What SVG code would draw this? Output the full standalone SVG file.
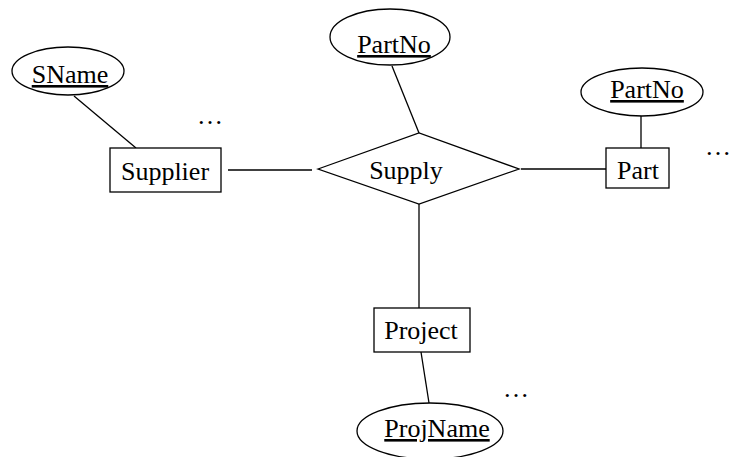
<svg xmlns="http://www.w3.org/2000/svg" width="733" height="457" viewBox="0 0 733 457">
  <style>
    .shape { fill: #fff; stroke: #000; stroke-width: 1.3; }
    .link { stroke: #000; stroke-width: 1.3; fill: none; }
    .label { font-family: "Liberation Serif", "Times New Roman", serif; font-size: 26px; fill: #000; text-anchor: middle; }
    .key { text-decoration: underline; }
  </style>
  <rect width="733" height="457" fill="#fff"/>

  <!-- relationships and attribute links -->
  <g id="connectors">
    <line class="link" x1="74" y1="96" x2="136" y2="148"/>
    <line class="link" x1="228" y1="170" x2="312" y2="170"/>
    <line class="link" x1="392" y1="66" x2="419" y2="133"/>
    <line class="link" x1="521" y1="169" x2="607" y2="169"/>
    <line class="link" x1="641" y1="116" x2="641" y2="148"/>
    <line class="link" x1="419" y1="204" x2="419" y2="308"/>
    <line class="link" x1="421" y1="352" x2="429" y2="403"/>
  </g>

  <g id="sname">
    <ellipse class="shape" cx="68" cy="71" rx="56" ry="24"/>
    <text class="label key" x="70" y="83">SName</text>
  </g>

  <g id="supplier">
    <rect class="shape" x="110" y="148" width="111" height="44"/>
    <text class="label" x="165" y="180">Supplier</text>
  </g>

  <g id="supply">
    <polygon class="shape" points="318,169 419,133 519,169 419,204"/>
    <text class="label" x="406" y="179">Supply</text>
  </g>

  <g id="partno-supply">
    <ellipse class="shape" cx="390" cy="37" rx="60" ry="28"/>
    <text class="label key" x="394" y="53">PartNo</text>
  </g>

  <g id="part">
    <rect class="shape" x="606" y="148" width="63" height="40"/>
    <text class="label" x="638" y="179">Part</text>
  </g>

  <g id="partno-part">
    <ellipse class="shape" cx="642" cy="92" rx="61" ry="24"/>
    <text class="label key" x="647" y="98">PartNo</text>
  </g>

  <g id="project">
    <rect class="shape" x="374" y="308" width="96" height="44"/>
    <text class="label" x="421" y="339">Project</text>
  </g>

  <g id="projname">
    <ellipse class="shape" cx="430" cy="431" rx="73" ry="28"/>
    <text class="label key" x="437" y="437">ProjName</text>
  </g>

  <g id="ellipses">
    <text class="label" x="210" y="124">…</text>
    <text class="label" x="718" y="155">…</text>
    <text class="label" x="516" y="397">…</text>
  </g>
</svg>
